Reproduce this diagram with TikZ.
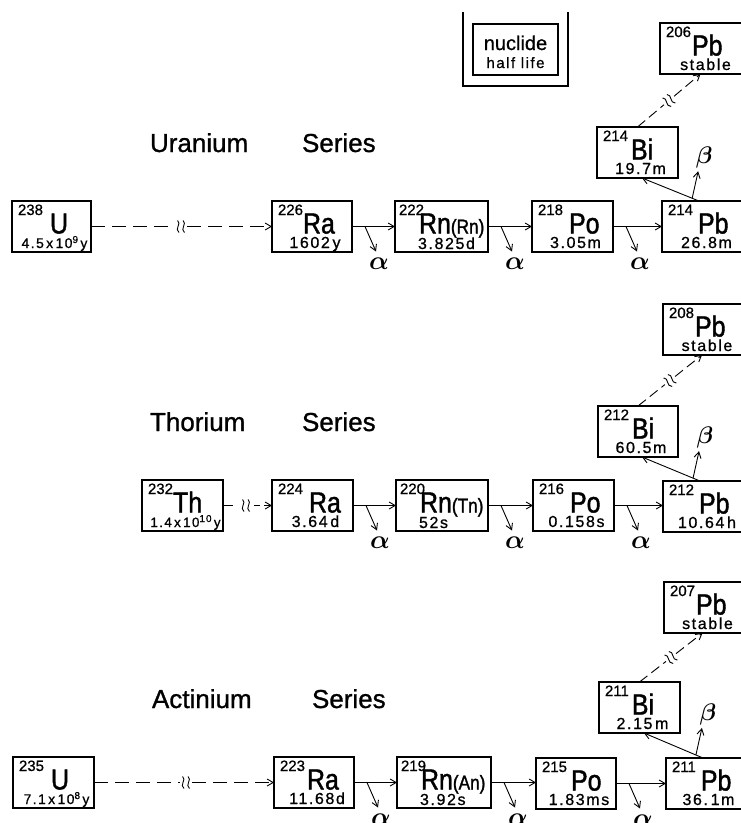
\documentclass[tikz,border=0pt]{standalone}
\usepackage{fix-cm}
\usepackage{amsmath}
\usepackage{fontspec}
\setmainfont{Liberation Sans}
\newfontfamily\boxfont[LetterSpace=10,FakeBold=0.8]{Liberation Sans}
\newfontfamily\symfont[FakeStretch=0.86,FakeBold=1.4]{Liberation Sans}
\newfontfamily\massfont[FakeBold=0.8]{Liberation Sans}
\newfontfamily\titlefont[FakeBold=1]{Liberation Sans}
\usetikzlibrary{arrows.meta,calc}
\newcommand\fs[1]{\fontsize{#1}{#1}\selectfont}
\newcommand\hs[1]{\raisebox{5pt}{\fs{10}#1}}
\tikzset{
  nbox/.style={draw, line width=1.2pt, inner sep=0pt, outer sep=0pt, rectangle},
  rnbox/.style={nbox, line width=2.2pt},
  txt/.style={inner sep=0pt, outer sep=0pt},
  greek/.style={inner sep=0pt, outer sep=0pt, font=\fs{26}},
  title/.style={inner sep=0pt, outer sep=0pt, anchor=base west, font=\titlefont\fs{26}},
  ln/.style={line width=0.9pt},
  arr/.style={line width=0.9pt, -{Straight Barb[length=6pt,width=7pt]}},
  dashA/.style={dash pattern=on 14pt off 7pt},
  dashC/.style={dash pattern=on 10pt off 5pt},
  brk/.pic={
    \draw[line width=0.9pt] (-3.5,-6) .. controls (1,-3) and (-7,2.5) .. (-2,6);
    \draw[line width=0.9pt] (2,-6) .. controls (6.5,-3) and (-1.5,2.5) .. (3.5,6);
  },
}
% #1 id, #2 style, #3 x1, #4 y1, #5 x2, #6 mass, #7 symbol, #8 half life, #9 gap
\newcommand\nuc[9]{%
  \node[#2, minimum width={#5-#3}, minimum height=51] (#1) at ({(#3+#5)/2},{#4+25.5}) {};
  \node[txt, anchor=base west, font=\massfont\fs{15}] (#1m) at ($(#1.north west)+(6,14)$) {#6};
  \node[txt, anchor=base west, font=\symfont\fs{29}] (#1s) at ($(#1m.base east)+(#9,18.5)$) {#7};
  \node[txt, anchor=base, font=\boxfont\fs{16}] (#1h) at ($(#1.south)+(3,-4)$) {#8};
}
% radon boxes: #1 id, #2 x1, #3 y1, #4 x2, #5 mass, #6 symbol, #7 half life, #8 gap
\newcommand\rnuc[8]{%
  \node[rnbox, minimum width={#4-#2}, minimum height=51] (#1) at ({(#2+#4)/2},{#3+25.5}) {};
  \node[txt, anchor=base west, font=\massfont\fs{15}] (#1m) at ($(#1.north west)+(4,14)$) {#5};
  \node[txt, anchor=base west, font=\symfont\fs{29}] (#1s) at ($(#1m.base east)+(#8,18.5)$) {#6};
  \node[txt, anchor=base west, font=\boxfont\fs{16}] (#1h) at ($(#1s.base west |- #1.south)+(-1,-3)$) {#7};
}
% alpha branch: #1 id, #2 source node
\newcommand\alphabr[2]{%
  \coordinate (#1s) at ($(#2.east)+(13,0)$);
  \coordinate (#1e) at ($(#1s)+(11,25)$);
  \draw[arr] (#1s) -- (#1e);
  \node[greek] (#1l) at ($(#1e)+(3,12)$) {$\boldsymbol{\alpha}$};
}
% beta branch: #1 id, #2 Pb node, #3 Bi node
\newcommand\betabr[3]{%
  \coordinate (#1A) at ($(#2.north west)+(37,0)$);
  \coordinate (#1B) at ($(#3.south east)+(-36,0)$);
  \draw[arr] (#1A) -- (#1B);
  \coordinate (#1S) at ($(#1A)!0.12!(#1B)$);
  \coordinate (#1E) at ($(#1S)+(6,-27)$);
  \draw[arr] (#1S) -- (#1E);
  \node[greek, font=\fs{24}] (#1l) at ($(#1E)+(6,-14)$) {$\boldsymbol{\beta}$};
}
% dashed branch to stable lead: #1 id, #2 Bi node, #3 Pb node
\newcommand\stablebr[3]{%
  \coordinate (#1a) at (#2.north);
  \coordinate (#1b) at ($(#3.south)+(-2,0)$);
  \coordinate (#1q) at ($(#1a)!0.5!(#1b)$);
  \draw[ln, dashC] (#1a) -- ($(#1a)!0.42!(#1b)$);
  \draw[arr, dashC] ($(#1a)!0.58!(#1b)$) -- (#1b);
  \pic[rotate=38] at (#1q) {brk};
}
\begin{document}
\begin{tikzpicture}[x=1pt,y=-1pt]
\useasboundingbox (0,0) rectangle (741,823);
\fill[white] (0,0) rectangle (741,823);
\clip (0,0) rectangle (741,823);

% legend
\draw[line width=1.8pt] (463,12) -- (463,86) -- (568,86) -- (568,12);
\node[nbox, minimum width=85, minimum height=51] (leg) at (515.5,49.5) {};
\node[txt, anchor=base, font=\massfont\fs{20}] (legn) at (515.5,50) {nuclide};
\node[txt, anchor=base, font=\boxfont\fs{15}] (legh) at (515.5,68) {half life};

% titles
\node[title] (tu1) at (150,152) {Uranium};
\node[title] (tu2) at (302,152) {Series};
\node[title] (tt1) at (150,431) {Thorium};
\node[title] (tt2) at (302,431) {Series};
\node[title] (ta1) at (152,708) {Actinium};
\node[title] (ta2) at (312,708) {Series};

% ---------------- Uranium series
\nuc{u238}{nbox}{12}{201}{91}{238}{U}{\fs{14}4.5\,x\,10\hs{9}\,y}{7}
\nuc{ra226}{nbox}{272}{201}{352}{226}{Ra}{1602\,y}{0}
\rnuc{rn222}{395}{201}{488}{222}{Rn\fs{20}(Rn)}{3.825d}{-5}
\nuc{po218}{nbox}{532}{201}{613}{218}{Po}{3.05m}{6}
\nuc{pb214}{nbox}{662}{201}{745}{214}{Pb}{26.8m}{5}
\nuc{bi214}{nbox}{597}{127}{678}{214}{Bi}{19.7m}{3}
\nuc{pb206}{nbox}{660}{23}{745}{206}{Pb}{stable}{1}

\coordinate (uq) at (181,226.5);
\draw[ln, dashA] (u238.east) -- ($(uq)+(-6,0)$);
\pic at (uq) {brk};
\draw[arr, dashA] ($(uq)+(6,0)$) -- (ra226.west);
\draw[arr] (ra226.east) -- (rn222.west |- ra226.east);
\draw[arr] (rn222.east) -- (po218.west |- rn222.east);
\draw[arr] (po218.east) -- (pb214.west |- po218.east);
\alphabr{ua1}{ra226}
\alphabr{ua2}{rn222}
\alphabr{ua3}{po218}
\betabr{ub}{pb214}{bi214}
\stablebr{us}{bi214}{pb206}

% ---------------- Thorium series
\nuc{th232}{nbox}{142}{480}{223}{232}{Th}{\fs{13.5}1.4\,x\,10\hs{10}\,y}{0}
\nuc{ra224}{nbox}{272}{480}{353}{224}{Ra}{3.64\,d}{6}
\rnuc{rn220}{396}{480}{488}{220}{Rn\fs{20}(Tn)}{52s}{-5}
\nuc{po216}{nbox}{533}{480}{614}{216}{Po}{0.158s}{6}
\nuc{pb212}{nbox}{663}{481}{745}{212}{Pb}{10.64\,h}{5}
\nuc{bi212}{nbox}{598}{406}{678}{212}{Bi}{60.5m}{3}
\nuc{pb208}{nbox}{663}{304}{745}{208}{Pb}{stable}{1}

\coordinate (tq) at (246,505.5);
\draw[ln] (th232.east) -- ($(tq)+(-13,0)$);
\pic at (tq) {brk};
\draw[ln] ($(tq)+(8,0)$) -- ($(tq)+(14,0)$);
\draw[arr] ($(tq)+(18,0)$) -- (ra224.west);
\draw[arr] (ra224.east) -- (rn220.west |- ra224.east);
\draw[arr] (rn220.east) -- (po216.west |- rn220.east);
\draw[arr] (po216.east) -- (pb212.west |- po216.east);
\alphabr{ta1}{ra224}
\alphabr{ta2}{rn220}
\alphabr{ta3}{po216}
\betabr{tb}{pb212}{bi212}
\stablebr{ts}{bi212}{pb208}

% ---------------- Actinium series
\nuc{u235}{nbox}{13}{757}{94}{235}{U}{\fs{14}7.1\,x\,10\hs{8}\,y}{7}
\nuc{ra223}{nbox}{274}{757}{354}{223}{Ra}{11.68d}{2}
\rnuc{rn219}{397}{757}{491}{219}{Rn\fs{20}(An)}{3.92s}{-5}
\nuc{po215}{nbox}{536}{758}{616}{215}{Po}{1.83ms}{4}
\nuc{pb211}{nbox}{666}{758}{745}{211}{Pb}{36.\,1m}{5}
\nuc{bi211}{nbox}{599}{682}{680}{211}{Bi}{2.15\,m}{3}
\nuc{pb207}{nbox}{664}{582}{745}{207}{Pb}{stable}{1}

\coordinate (aq) at (186,782.5);
\draw[ln, dashA] (u235.east) -- ($(aq)+(-6,0)$);
\pic at (aq) {brk};
\draw[arr, dashA] ($(aq)+(6,0)$) -- (ra223.west);
\draw[arr] (ra223.east) -- (rn219.west |- ra223.east);
\draw[arr] (rn219.east) -- (po215.west |- rn219.east);
\draw[arr] (po215.east) -- (pb211.west |- po215.east);
\alphabr{aa1}{ra223}
\alphabr{aa2}{rn219}
\alphabr{aa3}{po215}
\betabr{ab}{pb211}{bi211}
\stablebr{as}{bi211}{pb207}
\end{tikzpicture}
\end{document}
